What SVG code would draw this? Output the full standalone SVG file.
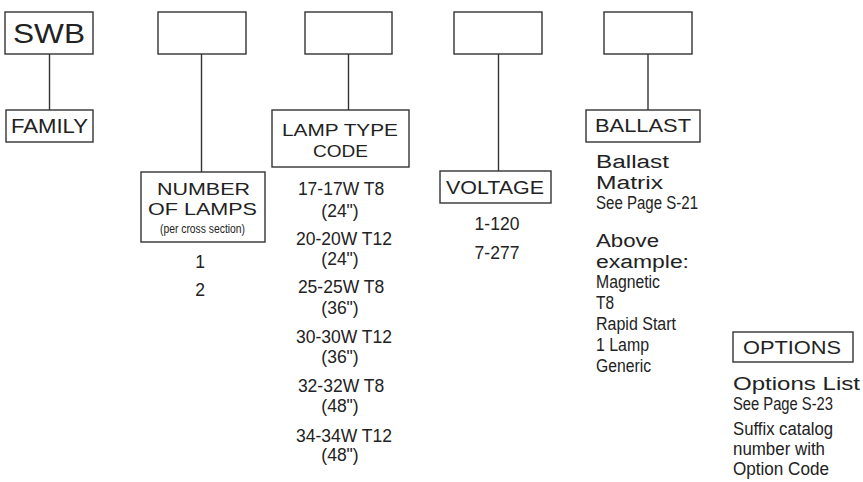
<svg xmlns="http://www.w3.org/2000/svg" width="863" height="482" viewBox="0 0 863 482">
<style>
.box{fill:#fff;stroke:#333;stroke-width:1.4}
.ln{stroke:#333;stroke-width:1.4;fill:none}
text{font-family:"Liberation Sans",Arial,sans-serif;fill:#222}
.h{font-size:18px;text-anchor:middle}
.c{font-size:17.5px;text-anchor:middle}
.w{font-size:18px}
.n{font-size:17.5px}
</style>
<rect width="863" height="482" fill="#fff"/>
<g id="connectors">
<line class="ln" x1="49.5" y1="54" x2="49.5" y2="110"/>
<line class="ln" x1="201.5" y1="54" x2="201.5" y2="172"/>
<line class="ln" x1="348.5" y1="54" x2="348.5" y2="110"/>
<line class="ln" x1="498.5" y1="54" x2="498.5" y2="171"/>
<line class="ln" x1="648" y1="54" x2="648" y2="110"/>
</g>
<g id="swb">
<rect class="box" x="5" y="12" width="88" height="42"/>
<text x="49" y="43" style="font-size:28px;text-anchor:middle" textLength="72" lengthAdjust="spacingAndGlyphs">SWB</text>
</g>
<g id="box2"><rect class="box" x="158" y="12" width="88" height="42"/></g>
<g id="box3"><rect class="box" x="305" y="12" width="87" height="42"/></g>
<g id="box4"><rect class="box" x="454" y="12" width="88" height="42"/></g>
<g id="box5"><rect class="box" x="604" y="12" width="88" height="42"/></g>
<g id="family">
<rect class="box" x="6" y="110" width="87" height="32"/>
<text class="h" x="49.5" y="133" style="font-size:19.5px" textLength="77" lengthAdjust="spacingAndGlyphs">FAMILY</text>
</g>
<g id="lamps">
<rect class="box" x="141" y="172" width="124" height="70"/>
<text class="h" x="203.5" y="195" style="font-size:17px" textLength="93" lengthAdjust="spacingAndGlyphs">NUMBER</text>
<text class="h" x="202.5" y="215" style="font-size:17px" textLength="109" lengthAdjust="spacingAndGlyphs">OF LAMPS</text>
<text class="h" x="202.5" y="233" style="font-size:12px" textLength="85" lengthAdjust="spacingAndGlyphs">(per cross section)</text>
<text class="c" x="200" y="268">1</text>
<text class="c" x="200" y="296">2</text>
</g>
<g id="lamptype">
<rect class="box" x="272" y="110" width="137" height="57"/>
<text class="h" x="340" y="136" style="font-size:17px" textLength="116" lengthAdjust="spacingAndGlyphs">LAMP TYPE</text>
<text class="h" x="340.5" y="157" style="font-size:17px" textLength="55" lengthAdjust="spacingAndGlyphs">CODE</text>
<text class="c" x="341" y="195">17-17W T8</text>
<text class="c" x="340" y="217">(24")</text>
<text class="c" x="344" y="245">20-20W T12</text>
<text class="c" x="340" y="265">(24")</text>
<text class="c" x="341" y="293">25-25W T8</text>
<text class="c" x="340" y="314">(36")</text>
<text class="c" x="344" y="343">30-30W T12</text>
<text class="c" x="340" y="363">(36")</text>
<text class="c" x="341" y="392">32-32W T8</text>
<text class="c" x="340" y="412">(48")</text>
<text class="c" x="344" y="442">34-34W T12</text>
<text class="c" x="340" y="461">(48")</text>
</g>
<g id="voltage">
<rect class="box" x="440" y="171" width="111" height="32"/>
<text class="h" x="495" y="194" textLength="98" lengthAdjust="spacingAndGlyphs">VOLTAGE</text>
<text class="c" x="497" y="230">1-120</text>
<text class="c" x="497" y="259">7-277</text>
</g>
<g id="ballast">
<rect class="box" x="586" y="110" width="114" height="32"/>
<text class="h" x="643" y="132" textLength="96" lengthAdjust="spacingAndGlyphs">BALLAST</text>
<text class="w" x="596" y="168" textLength="73" lengthAdjust="spacingAndGlyphs">Ballast</text>
<text class="w" x="596" y="189" textLength="67" lengthAdjust="spacingAndGlyphs">Matrix</text>
<text class="n" x="596" y="209" textLength="102" lengthAdjust="spacingAndGlyphs">See Page S-21</text>
<text class="w" x="596" y="247" textLength="63" lengthAdjust="spacingAndGlyphs">Above</text>
<text class="w" x="596" y="268" textLength="93" lengthAdjust="spacingAndGlyphs">example:</text>
<text class="n" x="596" y="288" textLength="64" lengthAdjust="spacingAndGlyphs">Magnetic</text>
<text class="n" x="596" y="309" textLength="18" lengthAdjust="spacingAndGlyphs">T8</text>
<text class="n" x="596" y="330" textLength="80" lengthAdjust="spacingAndGlyphs">Rapid Start</text>
<text class="n" x="596" y="351" textLength="53" lengthAdjust="spacingAndGlyphs">1 Lamp</text>
<text class="n" x="596" y="372" textLength="55" lengthAdjust="spacingAndGlyphs">Generic</text>
</g>
<g id="options">
<rect class="box" x="733" y="332" width="120" height="30"/>
<text class="h" x="792" y="354" textLength="98" lengthAdjust="spacingAndGlyphs">OPTIONS</text>
<text class="w" x="733" y="390" textLength="127" lengthAdjust="spacingAndGlyphs">Options List</text>
<text class="n" x="733" y="410" textLength="100" lengthAdjust="spacingAndGlyphs">See Page S-23</text>
<text class="n" x="733" y="435" textLength="100" lengthAdjust="spacingAndGlyphs">Suffix catalog</text>
<text class="n" x="733" y="455" textLength="92" lengthAdjust="spacingAndGlyphs">number with</text>
<text class="n" x="733" y="475" textLength="96" lengthAdjust="spacingAndGlyphs">Option Code</text>
</g>
</svg>
